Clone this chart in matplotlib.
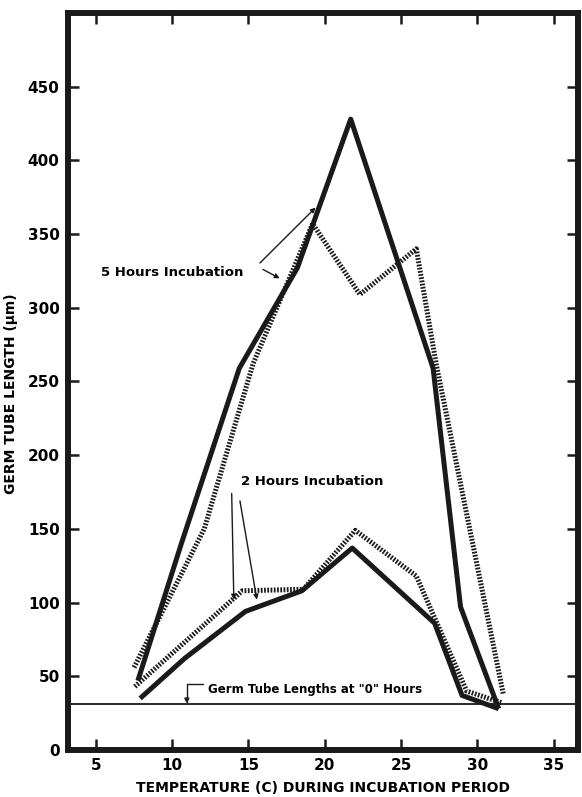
import matplotlib.pyplot as plt

# temperature (C) vs germ tube length (um)
t_5h_solid = [7.75, 10.6, 14.4, 18.2, 21.7, 27.1, 28.9, 31.4]
l_5h_solid = [47, 140, 259, 327, 428, 259, 97, 28]

t_5h_dot = [7.5, 12.1, 15.3, 19.2, 22.3, 26.0, 27.3, 31.7]
l_5h_dot = [56, 150, 262, 357, 309, 340, 262, 38]

t_2h_solid = [7.9, 10.8, 14.8, 18.5, 21.8, 27.2, 29.0, 31.4]
l_2h_solid = [35, 62, 94, 108, 137, 86, 37, 28]

t_2h_dot = [7.55, 14.6, 18.6, 22.0, 26.0, 27.4, 29.3, 31.6]
l_2h_dot = [43, 108, 109, 149, 118, 85, 40, 32]

zero_hours = 31

xticks = [5, 10, 15, 20, 25, 30, 35]
yticks = [0, 50, 100, 150, 200, 250, 300, 350, 400, 450]

plt.rcParams['font.family'] = ['DejaVu Sans']
plt.rcParams['font.weight'] = 'bold'

fig = plt.figure(figsize=(5.82, 7.97), dpi=100)
ax = fig.add_axes([0.1168, 0.059, 0.8764, 0.9247])

dot_style = dict(color='#1a1a1a', lw=3.6, linestyle=(0, (0.35, 0.3)),
                 dash_capstyle='butt', solid_joinstyle='miter')
solid_style = dict(color='#1a1a1a', lw=3.6, solid_capstyle='butt')

ax.plot(t_5h_dot, l_5h_dot, **dot_style)
ax.plot(t_2h_dot, l_2h_dot, **dot_style)
ax.plot(t_5h_solid, l_5h_solid, **solid_style)
ax.plot(t_2h_solid, l_2h_solid, **solid_style)

ax.axhline(zero_hours, color='#1a1a1a', lw=1.3)

ax.set_xlim(3.17, 36.6)
ax.set_ylim(0, 500)
ax.set_xticks(xticks)
ax.set_yticks(yticks)
ax.tick_params(direction='in', length=8, width=1.8, labelsize=11,
               top=True, right=True, pad=6, color='#1a1a1a')
for lab in ax.get_xticklabels() + ax.get_yticklabels():
    lab.set_fontweight('bold')
for s in ax.spines.values():
    s.set_linewidth(4.3)
    s.set_color('#1a1a1a')

ax.set_xlabel('TEMPERATURE (C) DURING INCUBATION PERIOD', fontsize=10,
              fontweight='bold')
ax.xaxis.set_label_coords(0.5, -0.042)
ax.set_ylabel('GERM TUBE LENGTH (\u00b5m)', fontsize=10, fontweight='bold')
ax.yaxis.set_label_coords(-0.098, 0.483)

# annotations
arr = dict(arrowstyle='-|>', color='#1a1a1a', lw=1.0, mutation_scale=7,
           shrinkA=0, shrinkB=0)
ax.text(5.33, 323.6, '5 Hours Incubation', fontsize=9.5, fontweight='bold',
        va='center', ha='left')
ax.annotate('', xy=(19.4, 368), xytext=(15.75, 330.4), arrowprops=arr)
ax.annotate('', xy=(17.05, 320), xytext=(15.95, 326), arrowprops=arr)

ax.text(14.5, 182, '2 Hours Incubation', fontsize=9.5, fontweight='bold',
        va='center', ha='left')
ax.annotate('', xy=(14.04, 102), xytext=(13.9, 174), arrowprops=arr)
ax.annotate('', xy=(15.55, 102), xytext=(14.44, 169), arrowprops=arr)

ax.text(12.34, 40.7, 'Germ Tube Lengths at "0" Hours', fontsize=8.5,
        fontweight='bold', va='center', ha='left')
ax.annotate('', xy=(10.96, 31.5), xytext=(12.0, 44.8),
            arrowprops=dict(arr, connectionstyle='angle,angleA=180,angleB=90,rad=0'))

fig.savefig('out.png', dpi=100)
plt.close(fig)
